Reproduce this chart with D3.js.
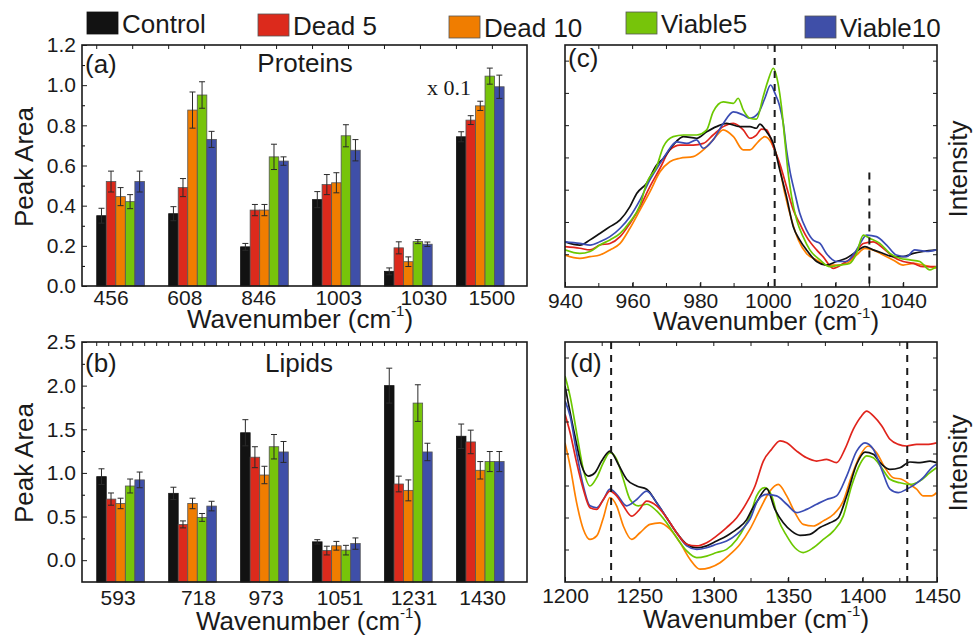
<!DOCTYPE html>
<html>
<head>
<meta charset="utf-8">
<script src="https://cdn.jsdelivr.net/npm/d3@7"></script>
<style>
body { margin: 0; background: #fff; }
text { font-family: "Liberation Sans", Arial, sans-serif; fill: #1a1a1a; }
</style>
</head>
<body>
<svg id="chart" width="974" height="635"></svg>
<script>
/* Raman peak areas (a,b) and spectra (c,d) */

// series
var seriesNames = ["Control", "Dead 5", "Dead 10", "Viable5", "Viable10"];
var barColors = ["#121212", "#dc2a1c", "#f07d00", "#77c40a", "#3f4fa8"];
var lineColors = ["#111111", "#e0241c", "#ff8000", "#6cc800", "#3a4cb4"];

// (a) proteins
var proteinPeaks = ["456", "608", "846", "1003", "1030", "1500"];
var protControl  = [0.35, 0.36, 0.195, 0.43, 0.073, 0.743];
var protDead5    = [0.52, 0.49, 0.378, 0.505, 0.19, 0.826];
var protDead10   = [0.445, 0.876, 0.378, 0.514, 0.121, 0.897];
var protViable5  = [0.42, 0.951, 0.643, 0.748, 0.221, 1.045];
var protViable10 = [0.52, 0.73, 0.622, 0.676, 0.208, 0.992];
var protControlErr  = [0.037, 0.035, 0.017, 0.04, 0.017, 0.025];
var protDead5Err    = [0.052, 0.045, 0.028, 0.05, 0.03, 0.022];
var protDead10Err   = [0.045, 0.09, 0.028, 0.05, 0.024, 0.023];
var protViable5Err  = [0.035, 0.066, 0.063, 0.055, 0.01, 0.04];
var protViable10Err = [0.052, 0.04, 0.021, 0.053, 0.011, 0.058];

// (b) lipids
var lipidPeaks = ["593", "718", "973", "1051", "1231", "1430"];
var lipControl  = [0.957, 0.766, 1.46, 0.21, 2.0, 1.42];
var lipDead5    = [0.70, 0.41, 1.18, 0.11, 0.873, 1.355];
var lipDead10   = [0.65, 0.65, 0.976, 0.165, 0.80, 1.03];
var lipViable5  = [0.85, 0.49, 1.30, 0.115, 1.80, 1.13];
var lipViable10 = [0.92, 0.62, 1.24, 0.19, 1.24, 1.13];
var lipControlErr  = [0.09, 0.07, 0.15, 0.025, 0.2, 0.14];
var lipDead5Err    = [0.07, 0.04, 0.12, 0.05, 0.09, 0.135];
var lipDead10Err   = [0.06, 0.06, 0.10, 0.05, 0.12, 0.10];
var lipViable5Err  = [0.08, 0.045, 0.14, 0.055, 0.21, 0.115];
var lipViable10Err = [0.09, 0.055, 0.12, 0.065, 0.10, 0.115];

// (c) spectra 940-1050 cm-1, [wavenumber, intensity a.u.]
var specC_Control = [[940,1.40],[944.4,1.30],[947.4,1.46],[950.3,1.66],[953.3,1.87],[956.3,2.08],[959.2,2.49],[961.2,2.90],[964.1,3.21],[967.1,3.78],[969.1,3.99],[972,4.40],[975,4.66],[978.9,4.61],[981.9,4.81],[984.8,4.97],[987.8,5.07],[991.7,4.97],[994.7,4.97],[996.6,4.92],[997.6,5.05],[999.6,4.81],[1001.6,4.45],[1003.5,3.63],[1005.5,2.80],[1007.5,1.87],[1009.4,1.46],[1011.4,1.15],[1014.4,0.79],[1017.3,0.68],[1020.3,0.79],[1023.2,0.89],[1026.2,1.10],[1028.7,1.25],[1031.1,1.15],[1034.1,1.04],[1037,0.94],[1040,0.94],[1043,1.04],[1045.9,1.10],[1049.8,1.15]];
var specC_Dead5 = [[940,1.25],[944.4,1.20],[947.4,1.15],[950.3,1.30],[953.3,1.35],[956.3,1.56],[959.2,1.97],[962.2,2.49],[965.1,3.11],[968.1,3.68],[971.0,4.25],[974.0,4.40],[977.9,4.40],[980.9,4.45],[983.8,4.71],[986.8,4.97],[989.8,5.07],[992.7,4.87],[994.7,4.61],[996.6,4.71],[998.1,4.89],[999.6,4.87],[1001.6,4.35],[1003.5,3.83],[1005.5,3.11],[1007.5,2.39],[1009.4,1.97],[1011.4,1.56],[1014.4,1.15],[1016.3,0.94],[1019.3,0.58],[1022.3,0.73],[1025.2,0.94],[1028.2,1.35],[1031.1,1.40],[1034.1,1.20],[1037.0,0.94],[1040.0,0.79],[1043.0,0.73],[1045.9,0.63],[1049.8,0.63]];
var specC_Dead10 = [[940,0.99],[944.4,0.89],[947.4,0.94],[950.3,0.99],[953.3,1.15],[956.3,1.35],[959.2,1.82],[962.2,2.39],[965.1,2.95],[968.1,3.57],[971.0,3.88],[974.0,3.99],[977.9,4.04],[980.9,4.25],[983.8,4.56],[986.8,4.87],[989.8,4.66],[992.7,4.25],[994.7,4.25],[997.1,4.50],[999.1,4.66],[1001.1,4.45],[1003.0,3.94],[1005.0,2.90],[1007.0,2.08],[1009.0,1.46],[1011.4,1.04],[1014.4,0.84],[1017.3,0.68],[1020.3,0.68],[1023.2,0.73],[1026.2,0.99],[1028.7,1.20],[1031.1,1.15],[1034.1,0.99],[1037.0,0.84],[1040.0,0.68],[1043.0,0.73],[1045.9,0.68],[1049.8,0.58]];
var specC_Viable5 = [[940,1.15],[944.4,1.04],[947.4,1.10],[950.3,1.30],[953.3,1.46],[956.3,1.66],[959.2,2.02],[962.2,2.54],[964.1,3.21],[967.1,3.73],[969.1,4.35],[972,4.66],[975,4.71],[978.9,4.71],[981.9,4.87],[983.8,5.43],[986.8,5.74],[989.8,5.69],[991.2,5.85],[992.7,5.49],[994.7,5.23],[996.6,5.20],[998.6,5.90],[1000.1,6.42],[1001.6,6.78],[1003.0,6.31],[1004.0,5.59],[1005.0,4.56],[1006.0,3.52],[1007.0,2.80],[1008.5,2.08],[1010.4,1.56],[1012.4,1.15],[1015.4,0.84],[1018.3,0.63],[1021.3,0.68],[1024.2,0.73],[1026.2,1.04],[1028.2,1.61],[1030.1,1.51],[1033.1,1.35],[1036.1,1.04],[1039,0.89],[1042,0.84],[1044.9,0.79],[1047.9,0.53],[1049.8,0.63]];
var specC_Viable10 = [[940,1.40],[944.4,1.35],[947.4,1.30],[950.3,1.40],[953.3,1.56],[956.3,1.82],[959.2,2.18],[962.2,2.70],[965.1,3.32],[968.1,3.83],[970.0,4.14],[973.0,4.50],[976.0,4.45],[978.9,4.56],[980.9,4.30],[983.8,4.56],[986.8,5.07],[989.8,5.43],[992.7,5.33],[994.7,5.23],[997.1,5.38],[999.1,5.85],[1000.8,6.26],[1002.1,6.0],[1003.5,5.6],[1004.5,5.1],[1005.5,4.25],[1006.5,3.6],[1008.0,2.9],[1009.4,2.29],[1011.4,1.77],[1013.4,1.45],[1015.4,1.35],[1017.3,1.04],[1020.3,0.79],[1023.2,0.79],[1026.2,1.15],[1029.2,1.61],[1032.1,1.56],[1035.1,1.30],[1038.0,0.99],[1041.0,0.94],[1043.4,1.15],[1046.9,1.10],[1049.8,1.15]];

// (d) spectra 1200-1450 cm-1
var specD_Control = [[1200,6.13],[1202.2,5.60],[1206.7,4.56],[1211.2,3.63],[1215.7,3.31],[1220.2,3.42],[1224.6,3.78],[1230.2,4.09],[1235.8,3.68],[1241.4,3.21],[1248.2,3.00],[1254.9,2.90],[1261.6,2.48],[1268.3,2.01],[1275.0,1.54],[1281.8,1.18],[1288.5,1.07],[1295.2,1.13],[1301.9,1.28],[1308.6,1.44],[1315.4,1.65],[1322.1,1.95],[1325.5,2.25],[1329.9,2.58],[1335.5,2.92],[1341.1,2.27],[1346.7,1.85],[1352.3,1.59],[1357.9,1.46],[1364.6,1.49],[1371.3,1.70],[1378.1,1.85],[1383.7,2.01],[1389.3,2.69],[1396.0,3.68],[1401.6,4.06],[1407.2,3.99],[1412.8,3.68],[1418.4,3.52],[1425.1,3.57],[1431.8,3.75],[1438.6,3.73],[1445.3,3.78],[1449.7,3.73]];
var specD_Dead5 = [[1200,5.24],[1203.4,4.67],[1207.8,3.73],[1212.3,2.90],[1216.8,2.32],[1221.3,2.27],[1225.8,2.58],[1230.2,2.84],[1234.7,2.69],[1239.2,2.38],[1244.8,2.06],[1249.3,2.22],[1254.9,2.53],[1261.6,2.38],[1268.3,2.01],[1275.0,1.54],[1281.8,1.18],[1288.5,1.13],[1295.2,1.23],[1301.9,1.44],[1308.6,1.70],[1315.4,2.01],[1322.1,2.48],[1327.7,3.00],[1333.3,3.78],[1338.9,4.15],[1344.5,4.41],[1349.0,4.35],[1355.7,4.09],[1362.4,3.88],[1369.1,3.78],[1375.8,3.83],[1382.5,3.73],[1388.1,4.15],[1393.7,4.77],[1399.3,5.19],[1402.7,5.34],[1407.2,5.19],[1412.8,4.88],[1418.4,4.46],[1424.0,4.30],[1429.6,4.25],[1436.3,4.30],[1443.0,4.30],[1449.7,4.35]];
var specD_Dead10 = [[1200,4.35],[1203.4,3.63],[1207.8,2.48],[1212.3,1.65],[1216.8,1.33],[1221.3,1.44],[1225.8,2.01],[1230.2,2.64],[1234.7,2.38],[1239.2,1.75],[1244.8,1.33],[1250.4,1.54],[1257.1,1.80],[1263.8,1.85],[1270.6,1.65],[1277.3,1.23],[1284.0,0.71],[1290.7,0.40],[1297.4,0.45],[1304.2,0.60],[1310.9,0.86],[1317.6,1.18],[1324.3,1.65],[1331.0,2.27],[1337.7,2.84],[1343.3,3.05],[1349.0,2.69],[1354.5,2.17],[1360.1,1.80],[1366.9,1.75],[1373.6,1.91],[1380.3,2.11],[1387.0,2.53],[1392.6,3.31],[1398.2,3.94],[1403.8,4.25],[1409.4,4.04],[1415.0,3.57],[1420.6,3.26],[1426.2,3.21],[1431.8,3.05],[1436.3,2.90],[1440.8,2.69],[1446.4,2.69],[1449.7,2.79]];
var specD_Viable5 = [[1200,6.44],[1203.4,5.81],[1207.8,4.67],[1212.3,3.52],[1216.8,3.00],[1221.3,3.26],[1225.8,3.73],[1230.2,4.04],[1234.7,3.83],[1239.2,3.21],[1243.7,2.58],[1249.3,2.38],[1254.9,2.43],[1261.6,2.22],[1268.3,1.85],[1275.0,1.39],[1281.8,0.97],[1288.5,0.76],[1295.2,0.81],[1301.9,0.92],[1308.6,1.02],[1315.4,1.33],[1321.0,1.75],[1324.3,2.06],[1328.8,2.69],[1334.4,2.95],[1338.9,2.69],[1343.3,1.96],[1349.0,1.44],[1354.5,1.07],[1360.1,0.92],[1366.9,1.07],[1373.6,1.33],[1380.3,1.59],[1387.0,2.06],[1392.6,3.00],[1398.2,3.68],[1402.7,3.94],[1407.2,3.88],[1412.8,3.57],[1418.4,3.21],[1425.1,3.10],[1431.8,3.05],[1438.6,3.16],[1445.3,3.42],[1449.7,3.57]];
var specD_Viable10 = [[1200,5.66],[1203.4,5.19],[1207.8,4.04],[1212.3,3.00],[1216.8,2.38],[1221.3,2.32],[1225.8,2.58],[1230.2,2.90],[1234.7,2.74],[1241.4,2.38],[1248.2,2.58],[1254.9,2.84],[1261.6,2.48],[1268.3,2.01],[1275.0,1.54],[1281.8,1.13],[1288.5,1.02],[1295.2,1.07],[1301.9,1.18],[1308.6,1.28],[1315.4,1.49],[1321.0,1.75],[1324.3,1.96],[1329.9,2.58],[1335.5,2.74],[1342.2,2.69],[1349.0,2.43],[1355.7,2.17],[1362.4,2.27],[1369.1,2.43],[1375.8,2.58],[1382.5,2.69],[1389.3,3.31],[1396.0,4.09],[1401.6,4.35],[1407.2,4.15],[1412.8,3.52],[1418.4,2.90],[1424.0,2.79],[1429.6,2.90],[1435.2,3.05],[1440.8,3.26],[1446.4,3.57],[1449.7,3.68]];

// marker lines
var dashC = [1002, 1030];
var dashCTop = [7.5, 3.55];
var dashD = [1231, 1430];
var dashDTop = [7.5, 7.5];


/* layout */
var svg = d3.select("#chart");
var stepX = 71.94;
var labelNudgeA = [-9.5, -7.7, -5.7, 2.4, 15.4, 11.5];
var labelNudgeB = [-2.5, 5.9, 1.6, 3.7, 5.7, 2.3];

function xTitle(x, y) {
    let t = svg.append("text")
        .attr("x", x).attr("y", y)
        .attr("text-anchor", "middle")
        .style("font-size", "26px");
    t.append("tspan").text("Wavenumber (cm");
    t.append("tspan").attr("dy", -12).style("font-size", "15px").text("-1");
    t.append("tspan").attr("dy", 12).text(")");
}

function label(x, y, txt, size, anchor) {
    return svg.append("text")
        .attr("x", x).attr("y", y)
        .attr("text-anchor", anchor || "start")
        .style("font-size", size + "px")
        .text(txt);
}

function frame(x0, x1, y0, y1) {
    svg.append("rect")
        .attr("x", x0).attr("y", y0)
        .attr("width", x1 - x0).attr("height", y1 - y0)
        .attr("fill", "none")
        .attr("stroke", "#1a1a1a")
        .attr("stroke-width", 1.6);
}

function drawBars(p) {
    let x = d3.scaleBand()
        .domain(p.cats)
        .range([p.x0 + 2.6, p.x0 + 2.6 + 6 * stepX])
        .paddingInner(0.337)
        .paddingOuter(0.1685);
    let xs = d3.scaleBand()
        .domain(seriesNames)
        .range([0, x.bandwidth()]);
    let y = d3.scaleLinear().domain(p.yDomain).range([p.y1, p.y0]);

    // bars
    seriesNames.forEach(function (s, si) {
        let g = svg.append("g");
        g.selectAll("rect")
            .data(p.values[si])
            .enter().append("rect")
            .attr("x", (d, i) => x(p.cats[i]) + xs(s))
            .attr("y", d => y(d))
            .attr("width", xs.bandwidth())
            .attr("height", d => p.y1 - y(d))
            .attr("fill", barColors[si])
            .attr("stroke", si === 0 ? "#121212" : "#555")
            .attr("stroke-width", 0.8);

        // error bars
        let eg = svg.append("g").attr("stroke", "#2a2a2a").attr("stroke-width", 1);
        p.values[si].forEach(function (v, i) {
            let cx = x(p.cats[i]) + xs(s) + xs.bandwidth() / 2;
            let e = p.errs[si][i];
            eg.append("line").attr("x1", cx).attr("x2", cx).attr("y1", y(v - e)).attr("y2", y(v + e));
            eg.append("line").attr("x1", cx - 3).attr("x2", cx + 3).attr("y1", y(v + e)).attr("y2", y(v + e));
            eg.append("line").attr("x1", cx - 3).attr("x2", cx + 3).attr("y1", y(v - e)).attr("y2", y(v - e));
        });
    });

    // y axis, ticks pointing in
    let ya = svg.append("g")
        .attr("transform", "translate(" + p.x0 + ",0)")
        .call(d3.axisLeft(y).tickValues(p.yTicks).tickFormat(d3.format(".1f"))
            .tickSize(-5).tickPadding(6));
    ya.select(".domain").remove();
    ya.selectAll("text").style("font-size", "21px").attr("fill", "#1a1a1a");
    ya.selectAll("line").attr("stroke", "#1a1a1a");

    let ym = svg.append("g")
        .attr("transform", "translate(" + p.x0 + ",0)")
        .call(d3.axisLeft(y).tickValues(p.yMinor).tickFormat("").tickSize(-3));
    ym.select(".domain").remove();

    // category axis
    let xa = svg.append("g")
        .attr("transform", "translate(0," + p.y1 + ")")
        .call(d3.axisBottom(x).tickSize(0).tickPadding(p.pad));
    xa.select(".domain").remove();
    xa.selectAll(".tick text")
        .style("font-size", "21px")
        .attr("fill", "#1a1a1a")
        .attr("dx", (d, i) => p.nudge[i]);

    // top ticks
    let r0 = x.range()[0];
    let topT = d3.range(r0 + x.step() * 0.1685, p.x1 - 2, p.topStep);
    svg.append("g").selectAll("line")
        .data(topT)
        .enter().append("line")
        .attr("x1", d => d).attr("x2", d => d)
        .attr("y1", p.y0).attr("y2", p.y0 + 4)
        .attr("stroke", "#1a1a1a");

    frame(p.x0, p.x1, p.y0, p.y1);
}

function drawSpectra(p) {
    let x = d3.scaleLinear().domain(p.xDomain).range([p.x0, p.x1]);
    let y = d3.scaleLinear().domain([0, 7.5]).range([p.y1, p.y0]);

    let line = d3.line()
        .x(d => x(d[0]))
        .y(d => y(d[1]))
        .curve(d3.curveMonotoneX);

    svg.append("defs").append("clipPath").attr("id", "clip" + p.id)
        .append("rect").attr("x", p.x0).attr("y", p.y0)
        .attr("width", p.x1 - p.x0).attr("height", p.y1 - p.y0);

    let lg = svg.append("g").attr("clip-path", "url(#clip" + p.id + ")");
    p.order.forEach(function (si) {
        lg.append("path")
            .datum(p.series[si])
            .attr("d", line)
            .attr("fill", "none")
            .attr("stroke", lineColors[si])
            .attr("stroke-width", 1.7)
            .attr("stroke-linejoin", "round");
    });

    // dashed markers
    p.dash.forEach(function (wn, i) {
        svg.append("line")
            .attr("x1", x(wn)).attr("x2", x(wn))
            .attr("y1", y(p.dashTop[i])).attr("y2", p.y1)
            .attr("stroke", "#1a1a1a")
            .attr("stroke-width", 2)
            .attr("stroke-dasharray", "7,6");
    });

    // bottom axis
    let xa = svg.append("g")
        .attr("transform", "translate(0," + p.y1 + ")")
        .call(d3.axisBottom(x).tickValues(p.xTicks).tickFormat(d3.format("d"))
            .tickSize(-5).tickPadding(6));
    xa.select(".domain").remove();
    xa.selectAll("text").style("font-size", "21px").attr("fill", "#1a1a1a");

    let minor = d3.range(p.xDomain[0] + p.xMinor, p.xDomain[1], p.xMinor);
    let tg = svg.append("g").attr("stroke", "#1a1a1a");
    minor.forEach(function (v) {
        tg.append("line").attr("x1", x(v)).attr("x2", x(v)).attr("y1", p.y1).attr("y2", p.y1 - 4);
        tg.append("line").attr("x1", x(v)).attr("x2", x(v)).attr("y1", p.y0).attr("y2", p.y0 + 4);
    });
    d3.range(1, 8).forEach(function (v) {
        tg.append("line").attr("x1", p.x0).attr("x2", p.x0 + 4).attr("y1", y(v)).attr("y2", y(v));
        tg.append("line").attr("x1", p.x1).attr("x2", p.x1 - 4).attr("y1", y(v)).attr("y2", y(v));
    });

    frame(p.x0, p.x1, p.y0, p.y1);
}


/* panels */
drawBars({
    x0: 82, x1: 527, y0: 45, y1: 286,
    cats: proteinPeaks,
    values: [protControl, protDead5, protDead10, protViable5, protViable10],
    errs: [protControlErr, protDead5Err, protDead10Err, protViable5Err, protViable10Err],
    yDomain: [0, 1.2],
    yTicks: d3.range(0, 1.21, 0.2),
    yMinor: d3.range(0.1, 1.2, 0.2),
    nudge: labelNudgeA,
    pad: 4,
    topStep: stepX / 2
});

drawBars({
    x0: 82, x1: 527, y0: 342, y1: 582,
    cats: lipidPeaks,
    values: [lipControl, lipDead5, lipDead10, lipViable5, lipViable10],
    errs: [lipControlErr, lipDead5Err, lipDead10Err, lipViable5Err, lipViable10Err],
    yDomain: [-0.25, 2.5],
    yTicks: d3.range(0, 2.51, 0.5),
    yMinor: d3.range(0.25, 2.5, 0.5),
    nudge: labelNudgeB,
    pad: 8,
    topStep: stepX / 6
});

drawSpectra({
    id: "c",
    x0: 565, x1: 937, y0: 45, y1: 287,
    xDomain: [940, 1050],
    xTicks: d3.range(940, 1041, 20),
    xMinor: 10,
    series: [specC_Control, specC_Dead5, specC_Dead10, specC_Viable5, specC_Viable10],
    order: [2, 1, 0, 4, 3],
    dash: dashC, dashTop: dashCTop
});

drawSpectra({
    id: "d",
    x0: 565, x1: 937, y0: 342, y1: 582,
    xDomain: [1200, 1450],
    xTicks: d3.range(1200, 1451, 50),
    xMinor: 25,
    series: [specD_Control, specD_Dead5, specD_Dead10, specD_Viable5, specD_Viable10],
    order: [2, 3, 0, 4, 1],
    dash: dashD, dashTop: dashDTop
});

// panel texts
label(85, 73, "(a)", 26);
label(305, 72, "Proteins", 26, "middle");
label(427, 95, "x 0.1", 22).style("font-family", "'Liberation Serif', 'Times New Roman', serif");
label(85, 372, "(b)", 26);
label(299, 372, "Lipids", 26, "middle");
label(568, 67, "(c)", 26);
label(570, 372, "(d)", 26);

xTitle(300, 328);
xTitle(309, 630);
xTitle(766, 330);
xTitle(756, 628);

// y titles
[[33, 167, "Peak Area"], [33, 463, "Peak Area"], [967, 169, "Intensity"], [967, 463, "Intensity"]]
    .forEach(function (t) {
        svg.append("text")
            .attr("transform", "translate(" + t[0] + "," + t[1] + ") rotate(-90)")
            .attr("text-anchor", "middle")
            .style("font-size", "26px")
            .text(t[2]);
    });

// legend
var legendX = [87, 258, 449, 626, 805];
var legendY = [33, 35, 37, 33, 37];
var leg = svg.append("g");
seriesNames.forEach(function (s, i) {
    leg.append("rect")
        .attr("x", legendX[i]).attr("y", legendY[i] - 21)
        .attr("width", 31).attr("height", 22)
        .attr("fill", barColors[i])
        .attr("stroke", i === 0 ? "#121212" : "#555")
        .attr("stroke-width", 0.8);
    leg.append("text")
        .attr("x", legendX[i] + 35).attr("y", legendY[i])
        .style("font-size", "26px")
        .text(s);
});
</script>
</body>
</html>
